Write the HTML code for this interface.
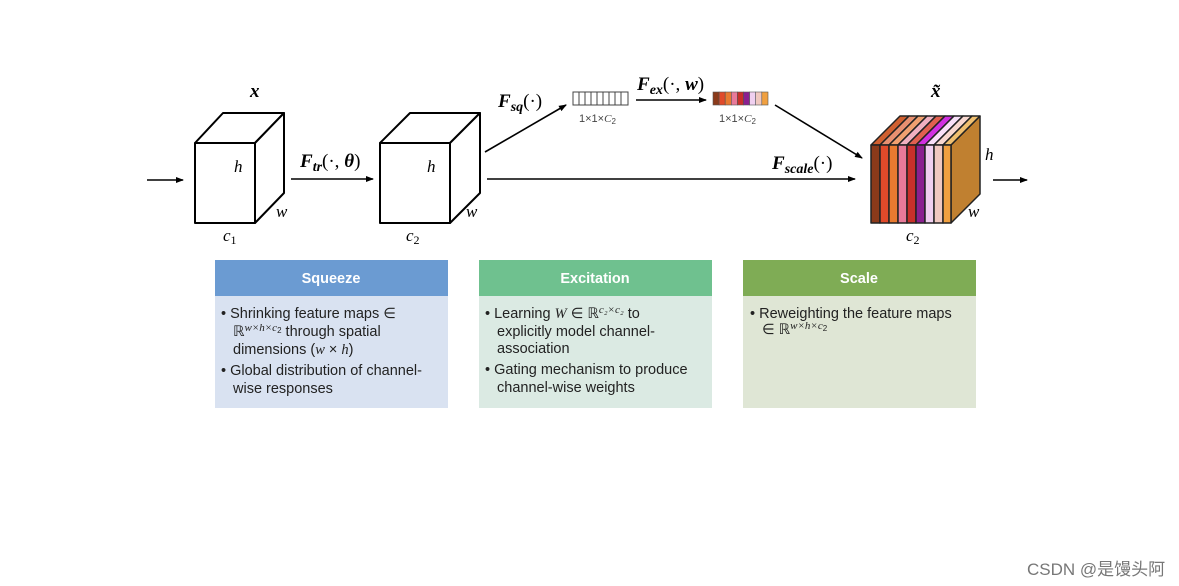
<!DOCTYPE html>
<html><head><meta charset="utf-8"><style>
body{margin:0;background:#fff;}
svg{display:block;font-family:"Liberation Sans",sans-serif;}
.m{font-family:"Liberation Serif",serif;font-style:italic;}
.t{font-size:14.5px;fill:#222;}
</style></head><body>
<svg width="1179" height="586" viewBox="0 0 1179 586" xmlns="http://www.w3.org/2000/svg">
<defs><marker id="a" markerWidth="8" markerHeight="8" refX="7" refY="4" orient="auto" markerUnits="userSpaceOnUse"><path d="M0,1 L8,4 L0,7 Z" fill="#000"/></marker></defs>
<g stroke="#000" stroke-width="2" fill="#fff" stroke-linejoin="round">
<polygon points="195,143 223,113 284,113 255,143"/>
<polygon points="255,143 284,113 284,193 255,223"/>
<rect x="195" y="143" width="60" height="80"/>
<polygon points="380,143 410,113 480,113 450,143"/>
<polygon points="450,143 480,113 480,193 450,223"/>
<rect x="380" y="143" width="70" height="80"/>
</g>
<g stroke="#000" stroke-width="1.6" fill="none" marker-end="url(#a)">
<line x1="147" y1="180" x2="183" y2="180"/>
<line x1="291" y1="179" x2="373" y2="179"/>
<line x1="487" y1="179" x2="855" y2="179"/>
<line x1="485" y1="152" x2="566" y2="105"/>
<line x1="636" y1="100" x2="706" y2="100"/>
<line x1="775" y1="105" x2="862" y2="158"/>
<line x1="993" y1="180" x2="1027" y2="180"/>
</g>
<g stroke="#444" stroke-width="1" fill="#fff">
<rect x="573" y="92" width="55" height="13"/>
<path d="M579,92V105M585,92V105M591,92V105M597,92V105M603,92V105M609,92V105M615,92V105M621,92V105"/>
</g>
<g stroke="#555" stroke-width="0.6">
<rect x="713" y="92" width="6.1" height="13" fill="#8b3a1a"/>
<rect x="719.1" y="92" width="6.1" height="13" fill="#e04a2a"/>
<rect x="725.2" y="92" width="6.1" height="13" fill="#e87a30"/>
<rect x="731.3" y="92" width="6.1" height="13" fill="#e87a9a"/>
<rect x="737.4" y="92" width="6.1" height="13" fill="#c8302a"/>
<rect x="743.5" y="92" width="6.1" height="13" fill="#8a2090"/>
<rect x="749.6" y="92" width="6.1" height="13" fill="#f0d0f0"/>
<rect x="755.7" y="92" width="6.1" height="13" fill="#f0c8c0"/>
<rect x="761.8" y="92" width="6.2" height="13" fill="#f0a040"/>
</g>
<g stroke="#222" stroke-width="1.5" stroke-linejoin="round">
<polygon points="951,145 980,116 980,194 951,223" fill="#c08030"/>
<polygon points="871,145 900,116 909,116 880,145" fill="#d06030"/>
<polygon points="880,145 909,116 918,116 889,145" fill="#e89070"/>
<polygon points="889,145 918,116 927,116 898,145" fill="#f0a070"/>
<polygon points="898,145 927,116 936,116 907,145" fill="#f0b0c0"/>
<polygon points="907,145 936,116 945,116 916,145" fill="#e06050"/>
<polygon points="916,145 945,116 954,116 925,145" fill="#d030e0"/>
<polygon points="925,145 954,116 963,116 934,145" fill="#f8e0f8"/>
<polygon points="934,145 963,116 972,116 943,145" fill="#f8d8d0"/>
<polygon points="943,145 972,116 980,116 951,145" fill="#f0c070"/>
<rect x="871" y="145" width="9" height="78" fill="#8b3a1a"/>
<rect x="880" y="145" width="9" height="78" fill="#e04a2a"/>
<rect x="889" y="145" width="9" height="78" fill="#e87a30"/>
<rect x="898" y="145" width="9" height="78" fill="#e87a9a"/>
<rect x="907" y="145" width="9" height="78" fill="#c8302a"/>
<rect x="916" y="145" width="9" height="78" fill="#8a2090"/>
<rect x="925" y="145" width="9" height="78" fill="#f0d0f0"/>
<rect x="934" y="145" width="9" height="78" fill="#f0c8c0"/>
<rect x="943" y="145" width="8" height="78" fill="#f0a040"/>
</g>
<g class="m" font-size="17">
<text x="250" y="97" font-weight="bold" font-size="19">x</text>
<text x="234" y="172">h</text><text x="276" y="217">w</text>
<text x="223" y="241">c<tspan font-size="12" dy="3" font-style="normal">1</tspan></text>
<text x="427" y="172">h</text><text x="466" y="217">w</text>
<text x="406" y="241">c<tspan font-size="12" dy="3" font-style="normal">2</tspan></text>
<text x="931" y="97" font-weight="bold" font-size="19">x̃</text>
<text x="985" y="160">h</text><text x="968" y="217">w</text>
<text x="906" y="241">c<tspan font-size="12" dy="3" font-style="normal">2</tspan></text>
<g font-weight="bold" font-size="19">
<text x="300" y="167">F<tspan font-size="14" dy="4">tr</tspan><tspan dy="-4" font-style="normal" font-weight="normal">(·,</tspan> θ<tspan font-style="normal" font-weight="normal">)</tspan></text>
<text x="498" y="107">F<tspan font-size="14" dy="4">sq</tspan><tspan dy="-4" font-style="normal" font-weight="normal">(·)</tspan></text>
<text x="637" y="90">F<tspan font-size="14" dy="4">ex</tspan><tspan dy="-4" font-style="normal" font-weight="normal">(·,</tspan> w<tspan font-style="normal" font-weight="normal">)</tspan></text>
<text x="772" y="169">F<tspan font-size="14" dy="4">scale</tspan><tspan dy="-4" font-style="normal" font-weight="normal">(·)</tspan></text>
</g>
</g>
<g font-size="11" fill="#444"><text x="579" y="122">1×1×<tspan class="m">C</tspan><tspan font-size="8" dy="2">2</tspan></text>
<text x="719" y="122">1×1×<tspan class="m">C</tspan><tspan font-size="8" dy="2">2</tspan></text></g>
<rect x="215" y="260" width="233" height="36" fill="#6b9bd2"/>
<rect x="215" y="296" width="233" height="112" fill="#d9e2f1"/>
<rect x="479" y="260" width="233" height="36" fill="#6fc18f"/>
<rect x="479" y="296" width="233" height="112" fill="#dbeae3"/>
<rect x="743" y="260" width="233" height="36" fill="#7fac55"/>
<rect x="743" y="296" width="233" height="112" fill="#dfe6d5"/>
<g fill="#fff" font-size="14.5" font-weight="bold" text-anchor="middle">
<text x="331" y="283">Squeeze</text><text x="595" y="283">Excitation</text><text x="859" y="283">Scale</text>
</g>
<g class="t">
<text x="221" y="318">• Shrinking feature maps ∈</text>
<text x="233" y="336">ℝ<tspan class="m" font-size="11" dy="-5">w×h×c</tspan><tspan font-size="8" dy="2">2</tspan><tspan dy="3"> through spatial</tspan></text>
<text x="233" y="354">dimensions (<tspan class="m">w</tspan> × <tspan class="m">h</tspan>)</text>
<text x="221" y="375">• Global distribution of channel-</text>
<text x="233" y="393">wise responses</text>
<text x="485" y="318">• Learning <tspan class="m">W</tspan> ∈ ℝ<tspan class="m" font-size="11" dy="-5">c₂×c₂</tspan><tspan dy="5"> to</tspan></text>
<text x="497" y="336">explicitly model channel-</text>
<text x="497" y="353">association</text>
<text x="485" y="374">• Gating mechanism to produce</text>
<text x="497" y="392">channel-wise weights</text>
<text x="750" y="318">• Reweighting the feature maps</text>
<text x="762" y="334">∈ ℝ<tspan class="m" font-size="11" dy="-5">w×h×c</tspan><tspan font-size="8" dy="2">2</tspan></text>
</g>
<text x="1027" y="575" font-size="17" fill="#777" style="font-family:'Liberation Sans','Noto Sans CJK SC',sans-serif">CSDN @是馒头阿</text>
</svg>
</body></html>
